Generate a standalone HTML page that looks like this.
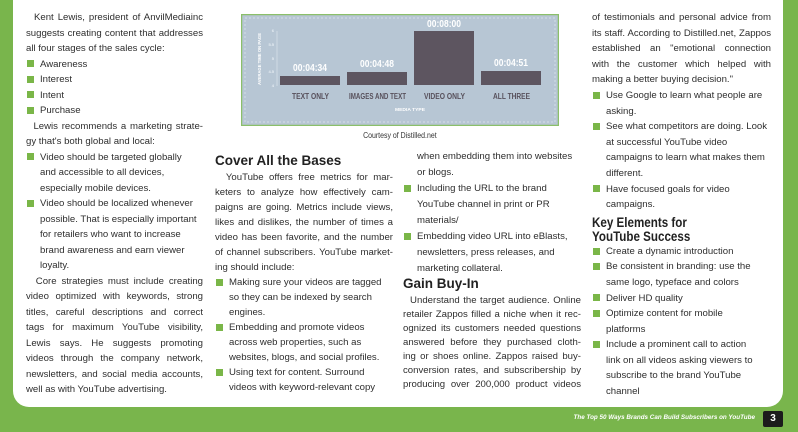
<!DOCTYPE html>
<html><head><meta charset="utf-8"><style>
*{margin:0;padding:0;box-sizing:border-box}
body{width:798px;height:432px;background:#79b54c;position:relative;overflow:hidden;font-family:"Liberation Sans",sans-serif;color:#2e2e2e}
.page{position:absolute;left:13px;top:0;width:770px;height:407px;background:#fff;border-radius:0 0 16px 16px}
.col{position:absolute;font-size:9.6px}
.col div{white-space:nowrap;height:var(--lh);line-height:var(--lh)}
.col div.j{text-align:justify;text-align-last:justify;white-space:normal;overflow:hidden}
.b{position:relative;padding-left:14px}
.b:before{content:"";position:absolute;left:1px;top:calc(var(--lh)/2 - 4px);width:7px;height:7px;background:#7ab648}
.i{padding-left:14px}
.h{font-family:"Liberation Sans",sans-serif;font-weight:bold;font-size:13.5px;color:#222}
.k{transform:scaleX(0.86);transform-origin:left center}
</style></head><body>
<div class="page"></div>

<div class="col" style="left:26px;top:10px;width:177px;--lh:15.5px">
<div class="j">&nbsp;&nbsp;Kent Lewis, president of AnvilMediainc</div>
<div class="j">suggests creating content that addresses</div>
<div>all four stages of the sales cycle:</div>
<div class="b">Awareness</div>
<div class="b">Interest</div>
<div class="b">Intent</div>
<div class="b">Purchase</div>
<div class="j">&nbsp;&nbsp;Lewis recommends a marketing strate-</div>
<div>gy that's both global and local:</div>
<div class="b">Video should be targeted globally</div>
<div class="i">and accessible to all devices,</div>
<div class="i">especially mobile devices.</div>
<div class="b">Video should be localized whenever</div>
<div class="i">possible. That is especially important</div>
<div class="i">for retailers who want to increase</div>
<div class="i">brand awareness and earn viewer</div>
<div class="i">loyalty.</div>
<div class="j">&nbsp;&nbsp;Core strategies must include creating</div>
<div class="j">video optimized with keywords, strong</div>
<div class="j">titles, careful descriptions and correct</div>
<div class="j">tags for maximum YouTube visibility,</div>
<div class="j">Lewis says. He suggests promoting</div>
<div class="j">videos through the company network,</div>
<div class="j">newsletters, and social media accounts, as</div>
<div>well as with YouTube advertising.</div>
</div>

<!-- chart -->
<svg style="position:absolute;left:241px;top:14px" width="318" height="112" viewBox="0 0 318 112">
<rect x="0.5" y="0.5" width="317" height="111" fill="#b7c6d4" stroke="#8bbf6a" stroke-width="1.5"/>
<rect x="4" y="4" width="310" height="104" fill="none" stroke="#dfe7ee" stroke-dasharray="2,2" stroke-width="0.7"/>
<g font-family="Liberation Sans, sans-serif" font-weight="bold" fill="#fff">
<text x="20" y="45" font-size="4.5" transform="rotate(-90 20 45)" text-anchor="middle" textLength="52" lengthAdjust="spacingAndGlyphs">AVERAGE TIME ON PAGE</text>
<g font-size="4" fill="#e6edf3" text-anchor="end"><text x="33" y="18">6</text><text x="33" y="32">5.5</text><text x="33" y="46">5</text><text x="33" y="59">4.5</text><text x="33" y="73">4</text></g>
<line x1="36" y1="17" x2="36" y2="72" stroke="#dfe7ee" stroke-width="0.6"/>
<rect x="39" y="62" width="60" height="9" fill="#5d5560"/>
<rect x="106" y="58" width="60" height="13" fill="#5d5560"/>
<rect x="173" y="17" width="60" height="54" fill="#5d5560"/>
<rect x="240" y="57" width="60" height="14" fill="#5d5560"/>
<g font-size="10" lengthAdjust="spacingAndGlyphs"><text x="52" y="57" textLength="34" lengthAdjust="spacingAndGlyphs">00:04:34</text><text x="119" y="53" textLength="34" lengthAdjust="spacingAndGlyphs">00:04:48</text><text x="186" y="13" textLength="34" lengthAdjust="spacingAndGlyphs">00:08:00</text><text x="253" y="52" textLength="34" lengthAdjust="spacingAndGlyphs">00:04:51</text></g>
<g font-size="8" fill="#57505b"><text x="51" y="85" textLength="37" lengthAdjust="spacingAndGlyphs">TEXT ONLY</text><text x="108" y="85" textLength="57" lengthAdjust="spacingAndGlyphs">IMAGES AND TEXT</text><text x="183" y="85" textLength="41" lengthAdjust="spacingAndGlyphs">VIDEO ONLY</text><text x="252" y="85" textLength="37" lengthAdjust="spacingAndGlyphs">ALL THREE</text></g>
<text x="154" y="97" font-size="4.5" textLength="30" lengthAdjust="spacingAndGlyphs">MEDIA TYPE</text>
</g></svg>
<div style="position:absolute;left:241px;width:318px;top:130px;text-align:center;font-size:8.5px;color:#333"><span style="display:inline-block;transform:scaleX(0.82)">Courtesy of Distilled.net</span></div>

<div class="col" style="left:215px;top:151px;width:178px;--lh:15px">
<div class="h" style="height:19px;line-height:19px">Cover All the Bases</div>
<div class="j">&nbsp;&nbsp;YouTube offers free metrics for mar-</div>
<div class="j">keters to analyze how effectively cam-</div>
<div class="j">paigns are going. Metrics include views,</div>
<div class="j">likes and dislikes, the number of times a</div>
<div class="j">video has been favorite, and the number</div>
<div class="j">of channel subscribers. YouTube market-</div>
<div>ing should include:</div>
<div class="b">Making sure your videos are tagged</div>
<div class="i">so they can be indexed by search</div>
<div class="i">engines.</div>
<div class="b">Embedding and promote videos</div>
<div class="i">across web properties, such as</div>
<div class="i">websites, blogs, and social profiles.</div>
<div class="b">Using text for content. Surround</div>
<div class="i">videos with keyword-relevant copy</div>
</div>

<div class="col" style="left:403px;top:149px;width:178px;--lh:16px">
<div class="i">when embedding them into websites</div>
<div class="i">or blogs.</div>
<div class="b">Including the URL to the brand</div>
<div class="i">YouTube channel in print or PR</div>
<div class="i">materials/</div>
<div class="b">Embedding video URL into eBlasts,</div>
<div class="i">newsletters, press releases, and</div>
<div class="i">marketing collateral.</div>
</div>
<div class="col" style="left:403px;top:274px;width:178px;--lh:14px">
<div class="h" style="height:20px;line-height:20px">Gain Buy-In</div>
<div class="j">&nbsp;&nbsp;Understand the target audience. Online</div>
<div class="j">retailer Zappos filled a niche when it rec-</div>
<div class="j">ognized its customers needed questions</div>
<div class="j">answered before they purchased cloth-</div>
<div class="j">ing or shoes online. Zappos raised buy-in,</div>
<div class="j">conversion rates, and subscribership by</div>
<div class="j">producing over 200,000 product videos</div>
</div>

<div class="col" style="left:592px;top:10px;width:179px;--lh:15.6px">
<div class="j">of testimonials and personal advice from</div>
<div class="j">its staff. According to Distilled.net, Zappos</div>
<div class="j">established an "emotional connection</div>
<div class="j">with the customer which helped with</div>
<div>making a better buying decision."</div>
<div class="b">Use Google to learn what people are</div>
<div class="i">asking.</div>
<div class="b">See what competitors are doing. Look</div>
<div class="i">at successful YouTube video</div>
<div class="i">campaigns to learn what makes them</div>
<div class="i">different.</div>
<div class="b">Have focused goals for video</div>
<div class="i">campaigns.</div>
<div class="h k" style="height:15px;line-height:17px;margin-top:1px">Key Elements for</div>
<div class="h k" style="height:15px;line-height:15px">YouTube Success</div>
<div class="b">Create a dynamic introduction</div>
<div class="b">Be consistent in branding: use the</div>
<div class="i">same logo, typeface and colors</div>
<div class="b">Deliver HD quality</div>
<div class="b">Optimize content for mobile</div>
<div class="i">platforms</div>
<div class="b">Include a prominent call to action</div>
<div class="i">link on all videos asking viewers to</div>
<div class="i">subscribe to the brand YouTube</div>
<div class="i">channel</div>
</div>

<div style="position:absolute;right:43px;top:414px;font-size:6.3px;font-weight:bold;font-style:italic;color:#fff;white-space:nowrap">The Top 50 Ways Brands Can Build Subscribers on YouTube</div>
<div style="position:absolute;left:763px;top:411px;width:20px;height:16px;background:#1c1c1c;border-radius:2px;color:#fff;font-weight:bold;font-size:10px;text-align:center;line-height:16px">3</div>
</body></html>
